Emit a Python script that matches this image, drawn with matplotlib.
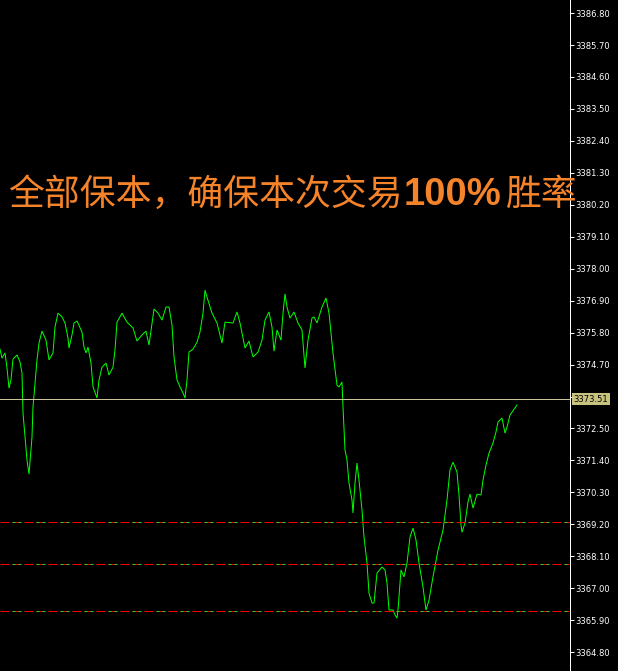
import matplotlib
matplotlib.use("Agg")
import matplotlib.pyplot as plt
import matplotlib.transforms as mtransforms

# price trace (bar position, price)
bars = [0, 2, 5, 7, 9, 11, 13, 17, 20, 22, 23, 25, 27, 29, 32, 33, 37, 39, 42, 46,
        49, 53, 55, 58, 62, 65, 68, 69, 72, 74, 77, 82, 84, 86, 88, 91, 93, 97, 99, 102,
        106, 109, 113, 115, 117, 122, 127, 133, 137, 142, 146, 149, 152, 154, 158, 162, 166, 169, 172, 174,
        177, 180, 183, 185, 187, 189, 193, 197, 200, 203, 205, 207, 212, 217, 222, 225, 233, 237, 240, 245,
        249, 253, 258, 262, 265, 269, 272, 274, 277, 281, 283, 285, 287, 290, 294, 298, 302, 305, 308, 312,
        314, 317, 322, 326, 329, 333, 337, 339, 342, 343, 345, 347, 349, 352, 353, 355, 357, 359, 362, 364,
        367, 369, 372, 374, 377, 382, 385, 387, 389, 393, 395, 397, 398, 401, 404, 407, 410, 413, 416, 419,
        423, 426, 429, 433, 438, 443, 447, 450, 453, 457, 459, 461, 462, 465, 468, 470, 473, 477, 481, 483,
        486, 489, 493, 496, 498, 502, 505, 507, 510, 517]
prices = [3375.23, 3374.92, 3375.10, 3374.58, 3373.89, 3374.17, 3374.89, 3375.03, 3374.79, 3374.41,
          3373.03, 3372.20, 3371.41, 3370.93, 3372.20, 3373.24, 3374.86, 3375.44, 3375.85, 3375.54,
          3374.86, 3375.10, 3375.99, 3376.47, 3376.34, 3376.13, 3375.61, 3375.27, 3375.72, 3376.13,
          3376.20, 3375.82, 3375.30, 3375.10, 3375.30, 3374.75, 3373.93, 3373.55, 3374.17, 3374.61,
          3374.75, 3374.34, 3374.61, 3375.20, 3376.16, 3376.47, 3376.16, 3375.96, 3375.51, 3375.72,
          3375.85, 3375.37, 3376.13, 3376.61, 3376.47, 3376.23, 3376.68, 3376.68, 3376.06, 3374.96,
          3374.17, 3373.93, 3373.72, 3373.55, 3374.17, 3375.13, 3375.23, 3375.47, 3375.82, 3376.47,
          3377.26, 3377.02, 3376.47, 3376.13, 3375.44, 3376.16, 3376.13, 3376.51, 3376.13, 3375.27,
          3375.51, 3374.96, 3375.13, 3375.54, 3376.23, 3376.51, 3375.99, 3375.16, 3375.89, 3375.54,
          3376.47, 3377.13, 3376.68, 3376.30, 3376.51, 3376.13, 3375.89, 3374.58, 3375.54, 3376.30,
          3376.34, 3376.13, 3376.68, 3376.99, 3376.47, 3375.10, 3373.99, 3373.93, 3374.10, 3373.24,
          3371.76, 3371.41, 3370.62, 3370.04, 3369.59, 3370.62, 3371.31, 3370.72, 3369.69, 3368.76,
          3367.87, 3366.83, 3366.49, 3366.49, 3367.52, 3367.73, 3367.63, 3367.18, 3366.25, 3366.25,
          3366.08, 3365.97, 3366.25, 3367.63, 3367.39, 3367.87, 3368.76, 3369.07, 3368.66, 3367.87,
          3367.04, 3366.25, 3366.59, 3367.39, 3368.31, 3369.00, 3370.04, 3371.07, 3371.34, 3371.00,
          3370.21, 3369.18, 3368.93, 3369.24, 3369.97, 3370.24, 3369.76, 3370.24, 3370.21, 3370.72,
          3371.24, 3371.65, 3372.00, 3372.38, 3372.72, 3372.86, 3372.34, 3372.55, 3372.96, 3373.31]

current_price = 3373.51
stop_levels = [3369.28, 3367.83, 3366.21]
tick_values = [3364.80, 3365.90, 3367.00, 3368.10, 3369.20, 3370.30, 3371.40, 3372.50,
               3373.60, 3374.70, 3375.80, 3376.90, 3378.00, 3379.10, 3380.20, 3381.30,
               3382.40, 3383.50, 3384.60, 3385.70, 3386.80]
# the 3373.60 label sits under the current price tag
tick_labels = ["" if abs(v - current_price) < 0.5 else "%.2f" % v for v in tick_values]
title_parts = ["全部保本，确保本次交易", "100%", "胜率"]

plt.rcParams["lines.scale_dashes"] = False
px = 0.72  # one pixel in points at 100 dpi

fig = plt.figure(figsize=(6.18, 6.71), dpi=100, facecolor="black")
ax = fig.add_axes([0, 0, 570 / 618, 1])
ax.set_facecolor("black")
ax.set_xlim(0, 570)
ax.set_ylim(3364.15, 3387.25)

# price line
ax.plot(bars, prices, color="#00ff00", lw=1 * px, solid_joinstyle="miter")

# current price line
ax.axhline(current_price, color="#c8c496", lw=1 * px)

# red / green stop lines
for lvl in stop_levels:
    ax.axhline(lvl, color="#ff0000", lw=1 * px, linestyle=(0, (9 * px, 3 * px)))
    ax.axhline(lvl, color="#32cd32", lw=1 * px,
               linestyle=(12 * px, (3 * px, 3 * px, 3 * px, 15 * px)))

# right axis
for s in ["left", "top", "bottom"]:
    ax.spines[s].set_visible(False)
ax.spines["right"].set_color("white")
ax.spines["right"].set_linewidth(1 * px)
ax.set_xticks([])
ax.yaxis.tick_right()
ax.set_yticks(tick_values)
ax.set_yticklabels(tick_labels)
ax.tick_params(axis="y", colors="white", length=4 * px, width=1 * px, pad=1,
               labelsize=6, labelcolor="white")
for t in ax.get_yticklabels():
    t.set_fontfamily("DejaVu Sans")

# current price tag
trans = mtransforms.blended_transform_factory(ax.transAxes, ax.transData)
ax.text(1.006, current_price, "%.2f" % current_price, transform=trans,
        ha="left", va="center", fontsize=6, color="black", family="DejaVu Sans",
        bbox=dict(boxstyle="square,pad=0.2", fc="#c8c27f", ec="none"), clip_on=False,
        zorder=5)

# overlay text
orange = "#f5832a"
base_y = (671 - 205) / 671
fig.text(8 / 618, base_y, title_parts[0], color=orange, fontsize=25.8,
         family=["Noto Sans CJK SC", "DejaVu Sans"], va="baseline", ha="left")
fig.text(404 / 618, base_y, title_parts[1], color=orange, fontsize=27.5,
         family="Liberation Sans", weight="bold", va="baseline", ha="left")
fig.text(505 / 618, base_y, title_parts[2], color=orange, fontsize=25.8,
         family=["Noto Sans CJK SC", "DejaVu Sans"], va="baseline", ha="left")

fig.savefig("out.png", dpi=100, facecolor="black")
